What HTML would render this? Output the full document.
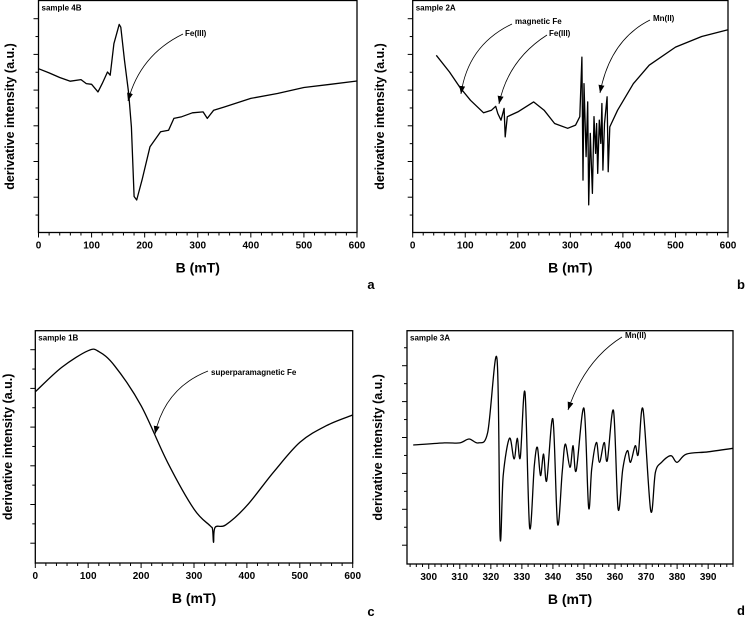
<!DOCTYPE html>
<html><head><meta charset="utf-8"><style>
html,body{margin:0;padding:0;background:#fff;width:748px;height:618px;overflow:hidden}
svg{display:block;font-family:"Liberation Sans",Arial,sans-serif}
</style></head><body>
<svg id="fig" width="748" height="618" viewBox="0 0 748 618">
<defs><marker id="ah" markerWidth="8" markerHeight="6" refX="8" refY="3" orient="auto" markerUnits="userSpaceOnUse"><path d="M0,0 L8,3 L0,6 Z" fill="#000"/></marker></defs>
</svg>
<script>
// ---- Panel a: sample 4B ----
const aField=[0,20,40,50,60,80,90,100,112,120,130,135,142,152,155,162,170,175,180,185,195,210,230,245,255,270,290,310,318,330,350,400,450,500,550,600];
const aSignal=[70.6,68.8,66.8,66,65.2,65.9,64.2,63.9,60.6,64.2,69.2,67.8,81.4,89.7,88.5,74.2,59.9,45.5,15.5,14,22.6,37,43.4,44.1,49.2,49.9,51.6,52,49.2,52.7,54.1,57.8,59.9,62.5,63.9,65.3];
// ---- Panel b: sample 2A ----
const bField=[45,70,90,110,135,150,158,162,168,174,176,180,200,230,250,270,295,310,318,322,324,326,330,333,335,338,342,345,348,350,352,355,358,360,362,365,370,372,375,390,420,450,500,550,600];
const bSignal=[76.4,69.2,62.5,57,51.6,52.7,54.4,51.3,48.4,53.5,41.2,49.9,52,56.3,52.7,47,44.9,46.3,49.9,75.6,22.6,64.2,32.7,56.3,11.9,42.7,16.9,49.9,34.1,47,25.5,48.4,38.4,55.6,26.9,47,58.5,26.2,45.5,52.7,64.2,72.1,79.9,84.5,87.4];
// ---- Panel c: sample 1B ----
const cField=[0,50,100,120,150,200,250,300,330,335,337,340,360,400,450,500,550,600];
const cSignal=[73.7,84.2,91.4,91,84.9,67.7,43.3,23.2,16.1,14.6,8.9,15.4,16.4,24.7,39,51.9,59.1,63.7];
// ---- Panel d: sample 3A ----
const dField=[295,305,310,313,316,319,322,323,324,326,327.5,328.5,329.5,331,332.5,334,335,336,337,338,340,341.5,343,344,345.5,346.5,347.5,350,351.5,352.5,354,355,356.5,357.5,359.5,361,362.5,364,365,366.5,367.5,369,371.5,373,375,378,380,383,390,398];
const dSignal=[51,51.9,51.9,53.6,51.9,56.4,87.9,11.4,37.9,53.9,45,53.9,45.7,73.6,15.7,42.1,50,37.9,47.1,35.7,62.1,17.1,39.3,51.4,41.4,50.7,40,66.7,24.3,40.7,52.1,43.6,52.1,44.3,65.7,23.6,40.7,48.6,43.6,50.7,47.1,66.4,22.9,39.3,43.6,46.4,43.6,47.1,48.1,49.6];
const xTicks600=["0","100","200","300","400","500","600"];
const xTicksD=["300","310","320","330","340","350","360","370","380","390"];

const NS="http://www.w3.org/2000/svg";
const svg=document.getElementById('fig');
function mk(tag,attrs,parent){const e=document.createElementNS(NS,tag);for(const k in attrs)e.setAttribute(k,attrs[k]);(parent||svg).appendChild(e);return e;}

function panel(cfg){
  const g=mk('g',{});
  
  
  const {x0,x1,y0,y1,xmin,xmax}=cfg;
  const sx=v=>x0+(v-xmin)/(xmax-xmin)*(x1-x0);
  const sy=v=>y1-v/100*(y1-y0);
  const frame=mk('rect',{x:x0,y:y0,width:x1-x0,height:y1-y0,fill:'none',stroke:'#000','stroke-width':1.3},g);
  
  
  for(let i=-2;i<14;i++){
    const py=cfg.yt0+i*cfg.ystep/2;
    if(py<=y0+2||py>=y1-2)continue;
    const len=i%2===0?5:3;
    const t=mk('line',{x1:x0-len,x2:x0,y1:py,y2:py,stroke:'#000','stroke-width':1},g);
    
    
  }
  const labels=cfg.xlabels;
  const lv=labels.map(Number);
  const step=lv[1]-lv[0];
  for(let v=lv[0]-step;v<=lv[lv.length-1]+step;v+=step/5){
    if(v<xmin-1e-6||v>xmax+1e-6)continue;
    const major=Math.abs(((v-lv[0])/step)-Math.round((v-lv[0])/step))<1e-6;
    const px=sx(v);
    const t=mk('line',{x1:px,x2:px,y1:y1,y2:y1+(major?5:3),stroke:'#000','stroke-width':1},g);
    
    
  }
  labels.forEach(l=>{
    const t=mk('text',{x:sx(Number(l)),y:y1+16,'font-size':10,'font-weight':'bold','text-anchor':'middle'},g);
    t.textContent=l;
    
    
  });
  const xt=mk('text',{x:(x0+x1)/2,y:y1+40,'font-size':14,'font-weight':'bold','text-anchor':'middle'},g);
  xt.textContent='B (mT)';
  
  
  const yt=mk('text',{x:0,y:0,'font-size':12.5,'font-weight':'bold','text-anchor':'middle',transform:`translate(${cfg.ytx},${(y0+y1)/2}) rotate(-90)`},g);
  yt.textContent='derivative intensity (a.u.)';
  
  
  const st=mk('text',{x:x0+3,y:y0+10,'font-size':8,'font-weight':'bold'},g);
  st.textContent=cfg.sample;
  
  
  const pl=mk('text',{x:cfg.lx,y:cfg.ly,'font-size':13,'font-weight':'bold','text-anchor':'middle'},g);
  pl.textContent=cfg.letter;
  
  
  const pts=cfg.xs.map((v,i)=>[sx(v),sy(cfg.ys[i])]);
  let d='M'+pts[0][0].toFixed(1)+','+pts[0][1].toFixed(1);
  if(cfg.smooth){
    for(let i=0;i<pts.length-1;i++){
      const p0=pts[Math.max(0,i-1)],p1=pts[i],p2=pts[i+1],p3=pts[Math.min(pts.length-1,i+2)];
      const c1=[p1[0]+(p2[0]-p0[0])/6,p1[1]+(p2[1]-p0[1])/6];
      const c2=[p2[0]-(p3[0]-p1[0])/6,p2[1]-(p3[1]-p1[1])/6];
      d+=`C${c1[0].toFixed(1)},${c1[1].toFixed(1)} ${c2[0].toFixed(1)},${c2[1].toFixed(1)} ${p2[0].toFixed(1)},${p2[1].toFixed(1)}`;
    }
  } else pts.slice(1).forEach(p=>d+='L'+p[0].toFixed(1)+','+p[1].toFixed(1));
  const line=mk('path',{d:d,fill:'none',stroke:'#000','stroke-width':1.3,'stroke-linejoin':'round'},g);
  
  
  cfg.notes.forEach(n=>{
    const a=mk('path',{d:n.d,fill:'none',stroke:'#000','stroke-width':0.8,'marker-end':'url(#ah)'},g);
    
    
    const t=mk('text',{x:n.x,y:n.y,'font-size':8,'font-weight':'bold'},g);
    t.textContent=n.t;
    
    
  });
}
panel({name:'panel-a',sample:'sample 4B',letter:'a',lx:371,ly:289,x0:38.5,x1:357,y0:0.5,y1:232.5,xmin:0,xmax:600,yt0:18.7,ystep:35.7,ytx:14,xs:aField,ys:aSignal,xlabels:xTicks600,smooth:false,
  notes:[{t:'Fe(III)',x:185,y:36,d:'M183,34 Q140,55 128,101'}]});
panel({name:'panel-b',sample:'sample 2A',letter:'b',lx:741,ly:289,x0:412.7,x1:728,y0:0.5,y1:232.5,xmin:0,xmax:600,yt0:18.7,ystep:35.7,ytx:384,xs:bField,ys:bSignal,xlabels:xTicks600,smooth:false,
  notes:[{t:'magnetic Fe',x:515,y:24,d:'M512,24 Q468,45 461,94'},{t:'Fe(III)',x:549,y:36,d:'M547,35 Q508,60 499,104'},{t:'Mn(II)',x:653,y:21,d:'M650,20 Q610,40 600,93'}]});
panel({name:'panel-c',sample:'sample 1B',letter:'c',lx:371,ly:616,x0:35.3,x1:352.7,y0:330.7,y1:563,xmin:0,xmax:600,yt0:349.7,ystep:38.7,ytx:12,xs:cField,ys:cSignal,xlabels:xTicks600,smooth:true,
  notes:[{t:'superparamagnetic Fe',x:211,y:375,d:'M208,371 Q165,388 155,434'}]});
panel({name:'panel-d',sample:'sample 3A',letter:'d',lx:741,ly:615,x0:407,x1:733,y0:330.7,y1:564,xmin:293,xmax:398,yt0:365.7,ystep:35.9,ytx:382,xs:dField,ys:dSignal,xlabels:xTicksD,smooth:true,
  notes:[{t:'Mn(II)',x:625,y:338,d:'M622,337 Q585,360 568,410'}]});
</script>
</body></html>
